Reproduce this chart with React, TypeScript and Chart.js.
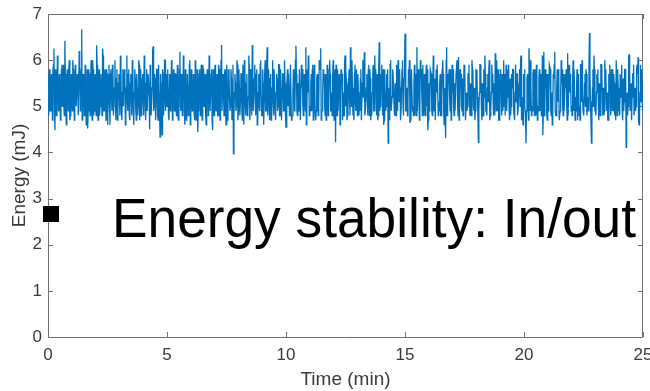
import React, { useEffect, useRef } from "react";
import { Chart, registerables } from "chart.js";

Chart.register(...registerables);

// Sampling interval of the trace (minutes per sample)
const SAMPLE_STEP_MIN = 5 / 240;

// Energy readings (mJ). For each 5-minute block:
// the "main" samples and the samples lying between them.
const energy0to5 = [
  5.1, 5.6, 4.9, 5.5, 5.2, 5.8, 6.25, 4.48, 5.4, 5.0,
  5.7, 5.1, 5.5, 4.8, 5.9, 5.3, 5.0, 6.42, 4.9, 5.6,
  5.2, 5.8, 4.7, 5.4, 5.1, 6.0, 5.3, 4.9, 5.7, 5.0,
  5.5, 4.8, 5.9, 5.2, 6.67, 4.9, 5.6, 5.1, 5.4, 4.7,
  4.52, 5.8, 5.0, 5.5, 5.2, 6.0, 4.8, 5.4, 5.1, 6.32,
  5.0, 5.6, 4.8, 5.3, 5.7, 6.25, 4.9, 5.5, 5.1, 5.8,
  4.6, 5.3, 5.0, 5.7, 5.2, 5.9, 4.8, 5.4, 5.0, 5.6,
  4.7, 5.5, 5.2, 6.1, 4.9, 5.3, 5.0, 5.8, 4.6, 5.4,
  5.1, 5.7, 4.8, 5.5, 5.2, 6.0, 4.9, 5.3, 5.6, 4.7,
  5.4, 5.0, 5.9, 5.2, 4.8, 5.6, 5.1, 6.1, 5.0, 5.5,
  4.9, 5.7, 5.2, 5.9, 4.8, 5.4, 6.3, 5.0, 5.6, 5.1,
  5.8, 4.7, 5.3, 4.33, 5.5, 4.38, 5.7, 5.1, 6.0, 5.2,
];
const energy0to5Between = [
  4.8, 5.8, 4.9, 5.7, 4.7, 5.9, 5.0, 5.8, 4.8, 6.1,
  4.9, 5.7, 4.7, 5.8, 5.0, 5.9, 4.8, 5.7, 4.6, 5.8,
  4.9, 6.0, 4.8, 5.7, 4.9, 5.8, 4.7, 5.9, 5.0, 5.7,
  4.8, 6.2, 4.9, 5.8, 4.7, 5.7, 4.8, 5.9, 4.6, 5.8,
  4.9, 5.7, 4.8, 6.0, 4.7, 5.8, 4.9, 5.7, 4.8, 5.9,
  4.7, 5.8, 5.0, 5.7, 4.8, 6.1, 4.9, 5.8, 4.7, 5.7,
  4.8, 5.9, 4.6, 5.8, 4.9, 5.7, 4.8, 6.0, 4.7, 5.8,
  4.9, 5.7, 4.8, 5.9, 4.7, 5.8, 5.0, 5.7, 4.8, 6.1,
  4.9, 5.8, 4.7, 5.7, 4.8, 5.9, 4.6, 5.8, 4.9, 5.7,
  4.8, 6.0, 4.7, 5.8, 4.9, 5.7, 4.8, 5.9, 4.7, 5.8,
  4.9, 5.7, 4.5, 5.8, 4.8, 6.2, 4.9, 5.7, 4.7, 5.8,
  4.8, 5.9, 4.9, 5.7, 4.7, 5.8, 4.8, 6.0, 4.9, 5.7,
];
const energy5to10 = [
  5.0, 5.6, 4.7, 5.4, 5.1, 5.9, 4.9, 5.3, 5.7, 5.0,
  5.5, 4.8, 5.2, 6.18, 4.9, 5.4, 5.1, 5.8, 4.6, 5.3,
  5.0, 5.7, 5.2, 6.0, 4.8, 5.5, 5.1, 5.6, 4.7, 5.3,
  5.0, 4.44, 5.4, 5.8, 4.9, 5.2, 5.9, 5.0, 5.5, 4.8,
  5.3, 5.7, 5.0, 5.4, 4.9, 5.8, 4.48, 5.2, 5.6, 5.0,
  5.5, 4.8, 5.9, 5.1, 5.4, 6.33, 4.9, 5.3, 5.7, 5.0,
  5.4, 4.7, 5.8, 5.2, 5.0, 5.6, 4.8, 3.97, 5.3, 5.5,
  5.0, 5.9, 4.9, 5.4, 5.1, 5.7, 4.7, 5.3, 6.0, 5.0,
  5.5, 4.8, 5.2, 5.8, 5.0, 5.4, 6.33, 4.9, 5.6, 5.1,
  5.7, 4.6, 5.3, 5.0, 5.9, 5.2, 4.8, 5.5, 5.1, 6.0,
  4.9, 6.28, 5.2, 5.0, 5.6, 4.7, 5.4, 5.1, 5.8, 4.9,
  5.3, 5.6, 5.0, 5.9, 4.8, 5.4, 5.2, 5.7, 4.9, 5.5,
];
const energy5to10Between = [
  5.8, 4.8, 5.7, 4.9, 6.0, 4.7, 5.8, 4.9, 5.7, 4.8,
  5.9, 4.7, 5.8, 5.0, 5.7, 4.8, 6.1, 4.9, 5.8, 4.7,
  5.7, 4.8, 5.9, 4.6, 5.8, 4.9, 5.7, 4.8, 6.0, 4.7,
  5.8, 4.9, 5.7, 4.8, 5.9, 4.7, 5.8, 5.0, 5.7, 4.6,
  5.8, 4.8, 6.1, 4.9, 5.7, 4.7, 5.8, 4.8, 5.9, 4.9,
  5.7, 4.8, 5.8, 4.7, 6.0, 4.9, 5.7, 4.8, 5.8, 4.6,
  5.9, 4.8, 5.7, 4.9, 5.8, 4.7, 5.9, 4.8, 5.7, 4.9,
  6.0, 4.7, 5.8, 4.8, 5.7, 4.9, 5.9, 4.6, 5.8, 4.8,
  5.7, 4.9, 6.1, 4.7, 5.8, 4.8, 5.7, 4.9, 5.9, 4.8,
  5.8, 4.7, 5.7, 4.9, 6.0, 4.8, 5.8, 4.6, 5.7, 4.9,
  5.9, 4.8, 5.8, 4.7, 5.7, 4.9, 6.0, 4.8, 5.8, 4.7,
  5.7, 4.9, 5.9, 4.8, 5.8, 4.7, 5.7, 4.9, 6.0, 4.8,
];
const energy10to15 = [
  4.55, 5.4, 5.0, 5.7, 5.2, 5.9, 4.8, 5.3, 5.6, 5.0,
  6.31, 4.9, 5.5, 5.1, 5.8, 4.7, 5.4, 5.0, 5.6, 5.2,
  6.28, 4.8, 5.3, 5.7, 5.0, 5.5, 4.9, 5.9, 5.1, 5.4,
  4.7, 5.6, 5.2, 5.0, 5.8, 6.26, 4.9, 5.3, 5.5, 5.0,
  5.7, 4.8, 5.4, 5.1, 6.0, 4.9, 5.3, 5.6, 5.0, 5.5,
  4.22, 5.2, 5.8, 4.9, 5.4, 5.1, 5.7, 4.7, 5.3, 5.9,
  5.0, 5.5, 4.8, 5.6, 5.2, 6.28, 5.0, 5.4, 4.9, 5.7,
  5.1, 5.8, 4.8, 5.3, 5.0, 5.6, 4.7, 5.5, 5.2, 6.17,
  4.9, 5.4, 5.1, 5.8, 4.8, 5.6, 5.0, 5.3, 5.9, 4.9,
  5.5, 5.1, 5.7, 4.8, 6.39, 5.0, 5.4, 5.2, 5.8, 4.7,
  5.3, 5.0, 5.6, 4.2, 5.4, 5.9, 4.9, 5.2, 5.7, 5.0,
  5.5, 4.8, 5.3, 6.0, 5.1, 5.4, 4.9, 5.8, 5.0, 5.6,
];
const energy10to15Between = [
  4.9, 5.8, 5.7, 4.8, 5.9, 4.7, 4.8, 5.8, 4.9, 6.0,
  5.7, 4.8, 4.9, 5.8, 4.7, 5.9, 5.8, 4.8, 5.7, 4.9,
  4.6, 5.8, 6.1, 4.8, 4.9, 5.7, 5.8, 4.7, 5.9, 4.8,
  4.9, 5.7, 4.8, 6.0, 5.8, 4.7, 4.9, 5.8, 5.7, 4.8,
  4.7, 5.9, 4.8, 5.8, 5.7, 4.9, 4.8, 6.0, 4.7, 5.8,
  5.9, 4.8, 4.9, 5.7, 4.6, 5.8, 5.7, 4.9, 4.8, 6.1,
  5.8, 4.7, 4.9, 5.8, 4.8, 5.7, 6.0, 4.8, 4.7, 5.9,
  4.9, 5.8, 5.7, 4.8, 4.9, 5.8, 4.7, 6.0, 5.8, 4.8,
  4.9, 5.7, 4.8, 5.9, 5.8, 4.7, 4.8, 5.7, 4.9, 6.1,
  5.8, 4.8, 4.7, 5.8, 4.9, 5.7, 5.9, 4.8, 4.6, 5.8,
  4.9, 5.7, 5.8, 4.8, 4.7, 6.0, 4.9, 5.8, 5.7, 4.8,
  4.8, 5.9, 4.9, 5.7, 5.8, 4.7, 4.9, 6.0, 4.8, 5.7,
];
const energy15to20 = [
  6.57, 4.9, 5.4, 5.1, 5.7, 4.64, 5.3, 5.8, 5.0, 5.5,
  4.8, 5.2, 6.28, 4.9, 5.4, 5.0, 5.7, 5.2, 5.9, 4.8,
  5.3, 5.6, 5.0, 4.48, 5.5, 5.1, 5.8, 4.9, 5.4, 5.0,
  5.6, 4.7, 5.3, 5.9, 5.1, 5.5, 4.8, 5.2, 6.0, 4.9,
  5.4, 4.31, 6.28, 5.0, 5.6, 5.2, 5.8, 4.8, 5.3, 5.0,
  5.5, 4.9, 5.7, 5.1, 6.07, 4.8, 5.4, 5.0, 5.6, 5.2,
  5.9, 4.7, 5.3, 5.0, 5.7, 5.1, 5.5, 4.8, 5.8, 5.0,
  5.4, 4.9, 5.6, 5.2, 4.22, 5.3, 5.9, 5.0, 5.5, 4.8,
  5.2, 5.7, 4.9, 5.4, 5.1, 6.0, 4.8, 5.3, 5.6, 5.0,
  5.5, 6.15, 4.9, 5.2, 5.8, 4.7, 5.4, 5.1, 5.7, 5.0,
  5.3, 4.8, 5.9, 5.2, 5.5, 4.9, 5.6, 5.0, 5.4, 5.8,
  4.8, 5.3, 5.1, 5.7, 4.9, 5.5, 5.0, 6.1, 5.2, 4.6,
];
const energy15to20Between = [
  5.7, 4.9, 4.8, 5.8, 6.0, 4.7, 5.8, 4.9, 4.8, 5.9,
  5.7, 4.8, 4.9, 5.8, 4.7, 6.0, 5.8, 4.8, 4.9, 5.7,
  4.8, 5.9, 5.8, 4.7, 4.9, 5.8, 5.7, 4.8, 6.1, 4.9,
  4.7, 5.8, 5.9, 4.8, 4.9, 5.7, 4.8, 5.8, 5.7, 4.6,
  4.9, 6.0, 4.8, 5.7, 5.8, 4.9, 4.7, 5.9, 5.8, 4.8,
  4.9, 5.7, 6.0, 4.8, 4.7, 5.8, 5.7, 4.9, 4.8, 5.9,
  5.8, 4.7, 4.9, 5.7, 5.9, 4.8, 4.8, 6.0, 5.7, 4.9,
  4.7, 5.8, 5.8, 4.8, 4.9, 5.9, 5.7, 4.7, 4.8, 5.8,
  6.1, 4.9, 4.8, 5.7, 5.8, 4.7, 4.9, 5.9, 5.7, 4.8,
  4.8, 5.8, 6.0, 4.9, 4.7, 5.7, 5.8, 4.8, 4.9, 6.0,
  5.7, 4.8, 4.9, 5.8, 5.9, 4.7, 4.8, 5.7, 5.8, 4.9,
  4.7, 5.9, 5.7, 4.8, 4.9, 5.8, 6.0, 4.7, 4.8, 5.7,
];
const energy20to25 = [
  5.3, 5.0, 4.2, 5.6, 5.1, 6.26, 4.9, 5.4, 5.0, 5.7,
  5.2, 5.8, 4.8, 5.3, 5.0, 5.6, 4.9, 5.5, 5.1, 4.37,
  6.18, 5.0, 5.4, 4.8, 5.7, 5.2, 5.9, 4.9, 5.3, 5.0,
  5.6, 6.18, 4.8, 5.4, 5.1, 5.8, 4.7, 5.3, 5.5, 5.0,
  5.7, 4.9, 5.4, 5.1, 6.15, 4.8, 5.3, 5.6, 5.0, 5.5,
  4.9, 5.8, 5.2, 5.4, 4.7, 5.6, 5.0, 5.9, 5.1, 5.3,
  4.8, 5.5, 5.0, 5.7, 5.2, 4.9, 6.59, 5.1, 4.2, 5.4,
  5.0, 5.8, 4.9, 5.3, 5.6, 5.0, 5.5, 4.8, 5.9, 5.2,
  5.4, 4.9, 5.7, 5.1, 5.3, 4.7, 5.6, 5.0, 5.8, 5.2,
  4.9, 5.5, 5.1, 6.0, 4.8, 5.4, 5.0, 5.7, 5.2, 4.9,
  5.6, 5.1, 5.8, 4.11, 5.3, 5.0, 6.11, 4.9, 5.5, 5.2,
  5.7, 4.8, 5.4, 5.0, 5.9, 6.06, 4.6, 5.3, 5.1, 5.5,
  5.2,
];
const energy20to25Between = [
  5.8, 4.8, 4.9, 5.7, 4.7, 5.9, 6.0, 4.8, 4.9, 5.8,
  4.8, 5.7, 5.9, 4.7, 4.9, 5.8, 5.7, 4.8, 6.1, 4.9,
  4.8, 5.8, 5.7, 4.7, 4.9, 5.9, 5.8, 4.8, 4.6, 5.7,
  5.9, 4.9, 4.8, 5.8, 5.7, 4.7, 4.9, 6.0, 5.8, 4.8,
  4.9, 5.7, 5.8, 4.7, 4.8, 5.9, 5.7, 4.9, 4.8, 6.0,
  5.8, 4.7, 4.9, 5.8, 5.7, 4.8, 4.7, 5.9, 6.0, 4.9,
  4.8, 5.7, 5.8, 4.8, 4.9, 5.9, 5.7, 4.7, 4.8, 5.8,
  6.1, 4.9, 4.8, 5.7, 5.8, 4.7, 4.9, 5.9, 5.7, 4.8,
  4.8, 6.0, 5.8, 4.9, 4.7, 5.7, 5.9, 4.8, 4.9, 5.8,
  5.7, 4.8, 4.7, 6.0, 5.8, 4.9, 4.8, 5.7, 5.9, 4.7,
  4.9, 5.8, 5.7, 4.8, 4.8, 6.1, 5.8, 4.9, 4.7, 5.7,
  5.9, 4.8, 4.9, 5.8, 5.7, 4.7, 4.8, 5.9, 5.8, 4.9,
];

const blocks = [
  [energy0to5, energy0to5Between],
  [energy5to10, energy5to10Between],
  [energy10to15, energy10to15Between],
  [energy15to20, energy15to20Between],
  [energy20to25, energy20to25Between],
];

const xTickValues = [0, 5, 10, 15, 20, 25];
const yTickValues = [0, 1, 2, 3, 4, 5, 6, 7];
const xAxisTitle = "Time (min)";
const yAxisTitle = "Energy (mJ)";
const overlayText = "Energy stability: In/out";

const FONT = "'Liberation Sans', Arial, Helvetica, sans-serif";
const LABEL_COLOR = "#3a3a3a";
const AXIS_COLOR = "#707070";
const LINE_COLOR = "#0072BD";

const boxAndTicksPlugin = {
  id: "matlabBox",
  beforeDatasetsDraw(chart: any) {
    const { ctx, chartArea, scales } = chart;
    const { left, right, top, bottom } = chartArea;
    const tl = 5;
    ctx.save();
    ctx.strokeStyle = AXIS_COLOR;
    ctx.lineWidth = 1;
    ctx.beginPath();
    ctx.rect(Math.round(left) + 0.5, Math.round(top) + 0.5, Math.round(right - left) - 1, Math.round(bottom - top));
    for (const v of xTickValues) {
      const px = Math.round(scales.x.getPixelForValue(v)) + 0.5;
      ctx.moveTo(px, bottom);
      ctx.lineTo(px, bottom - tl);
      ctx.moveTo(px, top);
      ctx.lineTo(px, top + tl);
    }
    for (const v of yTickValues) {
      const py = Math.round(scales.y.getPixelForValue(v)) + 0.5;
      ctx.moveTo(left, py);
      ctx.lineTo(left + tl, py);
      ctx.moveTo(right, py);
      ctx.lineTo(right - tl, py);
    }
    ctx.stroke();
    ctx.restore();
  },
  afterDraw(chart: any) {
    const { ctx } = chart;
    ctx.save();
    ctx.fillStyle = "#000000";
    ctx.fillRect(43, 206, 16, 16);
    ctx.font = `56px ${FONT}`;
    ctx.textAlign = "left";
    ctx.textBaseline = "alphabetic";
    ctx.fillText(overlayText, 112, 237, 524);
    ctx.restore();
  },
};

export default function App() {
  const canvasRef = useRef<HTMLCanvasElement | null>(null);

  useEffect(() => {
    document.body.style.margin = "0";
    const series: number[] = [];
    for (const [main, between] of blocks) {
      for (let i = 0; i < main.length; i++) {
        series.push(main[i]);
        if (i < between.length) series.push(between[i]);
      }
    }
    const points = series.map((y, i) => ({ x: i * SAMPLE_STEP_MIN, y }));

    const chart = new Chart(canvasRef.current as HTMLCanvasElement, {
      type: "line",
      data: {
        datasets: [
          {
            data: points,
            borderColor: LINE_COLOR,
            borderWidth: 1.3,
            pointRadius: 0,
            tension: 0,
            fill: false,
          },
        ],
      },
      options: {
        responsive: false,
        animation: false,
        devicePixelRatio: 1,
        parsing: false,
        layout: { padding: { left: 0, right: 7, top: 14, bottom: 0 } },
        plugins: {
          legend: { display: false },
          tooltip: { enabled: false },
        },
        scales: {
          x: {
            type: "linear",
            min: 0,
            max: 25,
            afterBuildTicks: (s: any) => {
              s.ticks = xTickValues.map((v) => ({ value: v }));
            },
            ticks: {
              font: { family: FONT, size: 17 },
              color: LABEL_COLOR,
              padding: 8,
              maxRotation: 0,
              autoSkip: false,
            },
            grid: { display: false, drawTicks: false },
            border: { display: false },
            title: {
              display: true,
              text: xAxisTitle,
              font: { family: FONT, size: 19 },
              color: LABEL_COLOR,
              padding: { top: 0, bottom: 0 },
            },
            afterFit: (s: any) => {
              s.height = 54;
              s.paddingLeft = 0;
              s.paddingRight = 0;
            },
          },
          y: {
            type: "linear",
            min: 0,
            max: 7,
            afterBuildTicks: (s: any) => {
              s.ticks = yTickValues.map((v) => ({ value: v }));
            },
            ticks: {
              font: { family: FONT, size: 17 },
              color: LABEL_COLOR,
              padding: 6,
              autoSkip: false,
            },
            grid: { display: false, drawTicks: false },
            border: { display: false },
            title: {
              display: true,
              text: yAxisTitle,
              font: { family: FONT, size: 19 },
              color: LABEL_COLOR,
              padding: { top: 8, bottom: 0 },
            },
            afterFit: (s: any) => {
              s.width = 48;
              s.paddingTop = 0;
              s.paddingBottom = 0;
            },
          },
        },
      },
      plugins: [boxAndTicksPlugin],
    } as any);

    return () => chart.destroy();
  }, []);

  return (
    <div style={{ position: "absolute", left: 0, top: 0, width: 650, height: 391, background: "#ffffff" }}>
      <canvas ref={canvasRef} width={650} height={391} />
    </div>
  );
}
